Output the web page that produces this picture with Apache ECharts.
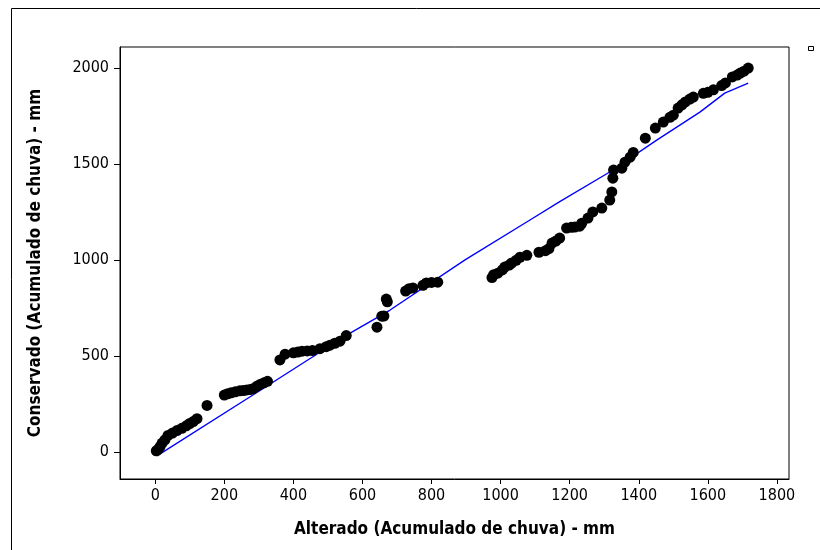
<!DOCTYPE html>
<html>
<head>
<meta charset="utf-8">
<title>Alterado x Conservado</title>
<script src="https://cdn.jsdelivr.net/npm/echarts@6/dist/echarts.min.js"></script>
<style>
  html, body { margin: 0; padding: 0; background: #fff; }
  #main { width: 820px; height: 550px; }
</style>
</head>
<body>
<div id="main"></div>
<script>
// ticks of the axes
var xTicks = [0, 200, 400, 600, 800, 1000, 1200, 1400, 1600, 1800];
var yTicks = [0, 500, 1000, 1500, 2000];

// pontos: [alterado, conservado]
var pontos = [
  [3, 8], [8, 14], [14, 30], [20, 48], [28, 65], [37, 88], [50, 100], [63, 113], [77, 125],
  [90, 138], [100, 150], [110, 160], [121, 175], [150, 244],
  [200, 298], [210, 305], [220, 310], [232, 315], [245, 320], [255, 322], [265, 325],
  [275, 327], [285, 333], [295, 345], [305, 355], [315, 362], [325, 370],
  [361, 481], [376, 511], [400, 518], [413, 522], [425, 527], [440, 528], [455, 530],
  [477, 540], [495, 550], [506, 558], [520, 568], [535, 579], [553, 608],
  [642, 652], [656, 709], [662, 710], [669, 798], [672, 784],
  [725, 840], [735, 852], [746, 856], [775, 870], [785, 882], [800, 885], [818, 886],
  [975, 910], [980, 925], [992, 933], [1005, 950], [1012, 965], [1025, 975], [1032, 986],
  [1045, 1000], [1056, 1016], [1076, 1026], [1111, 1042], [1130, 1050], [1140, 1061],
  [1149, 1090], [1160, 1100], [1171, 1116], [1191, 1168], [1205, 1172], [1215, 1173],
  [1229, 1178], [1235, 1193], [1253, 1220], [1267, 1252], [1293, 1272], [1316, 1314],
  [1322, 1356], [1325, 1428], [1327, 1470], [1351, 1480], [1360, 1511], [1375, 1537],
  [1384, 1562], [1419, 1636], [1448, 1689], [1471, 1720], [1490, 1745], [1500, 1756],
  [1514, 1793], [1525, 1810], [1535, 1825], [1548, 1840], [1558, 1850], [1587, 1870],
  [1600, 1875], [1616, 1888], [1640, 1910], [1651, 1924], [1671, 1955], [1685, 1965],
  [1694, 1975], [1705, 1985], [1717, 2001]
];

// linha azul
var linha = [
  [5, -19], [300, 318], [563, 620], [680, 741], [897, 1002], [1085, 1210],
  [1170, 1304], [1316, 1460], [1452, 1626], [1577, 1772], [1649, 1871], [1717, 1923]
];

var fonte = "'DejaVu Sans Condensed', 'DejaVu Sans', sans-serif";

function semMilhar(v) { return String(v); }

var myChart = echarts.init(document.getElementById('main'));

var option = {
  backgroundColor: '#fff',
  animation: false,
  grid: {
    left: 120, top: 47, width: 669, height: 432,
    show: true, borderColor: '#000', borderWidth: 1
  },
  xAxis: {
    type: 'value',
    min: -102, max: 1835,
    name: 'Alterado (Acumulado de chuva) - mm',
    nameLocation: 'middle',
    nameGap: 42,
    nameTextStyle: { fontFamily: fonte, fontWeight: 'bold', fontSize: 17, color: '#000' },
    axisLine: { show: true, onZero: false, lineStyle: { color: '#000', width: 1 } },
    axisTick: { show: true, length: 5, customValues: xTicks, lineStyle: { color: '#000' } },
    axisLabel: { customValues: xTicks, formatter: semMilhar, margin: 9, fontFamily: fonte, fontSize: 16, color: '#000' },
    splitLine: { show: false }
  },
  yAxis: {
    type: 'value',
    min: -139, max: 2111,
    name: 'Conservado (Acumulado de chuva) - mm',
    nameLocation: 'middle',
    nameGap: 76,
    nameTextStyle: { fontFamily: fonte, fontWeight: 'bold', fontSize: 17, color: '#000' },
    axisLine: { show: true, onZero: false, lineStyle: { color: '#000', width: 1 } },
    axisTick: { show: true, length: 6, customValues: yTicks, lineStyle: { color: '#000' } },
    axisLabel: { customValues: yTicks, formatter: semMilhar, margin: 11, fontFamily: fonte, fontSize: 16, color: '#000' },
    splitLine: { show: false }
  },
  graphic: [
    { type: 'rect', shape: { x: 11.5, y: 8.5, width: 900, height: 700 },
      style: { fill: 'none', stroke: '#000', lineWidth: 1 }, silent: true },
    { type: 'rect', shape: { x: 808.5, y: 46.5, width: 5, height: 4 },
      style: { fill: '#fff', stroke: '#000', lineWidth: 1 }, silent: true }
  ],
  series: [
    {
      name: 'Linha',
      type: 'line',
      data: linha,
      showSymbol: false,
      lineStyle: { color: '#0000ff', width: 1.4 },
      z: 2
    },
    {
      name: 'Pontos',
      type: 'scatter',
      data: pontos,
      symbolSize: 11,
      itemStyle: { color: '#000', opacity: 1 },
      z: 3
    }
  ]
};

myChart.setOption(option);
</script>
</body>
</html>
